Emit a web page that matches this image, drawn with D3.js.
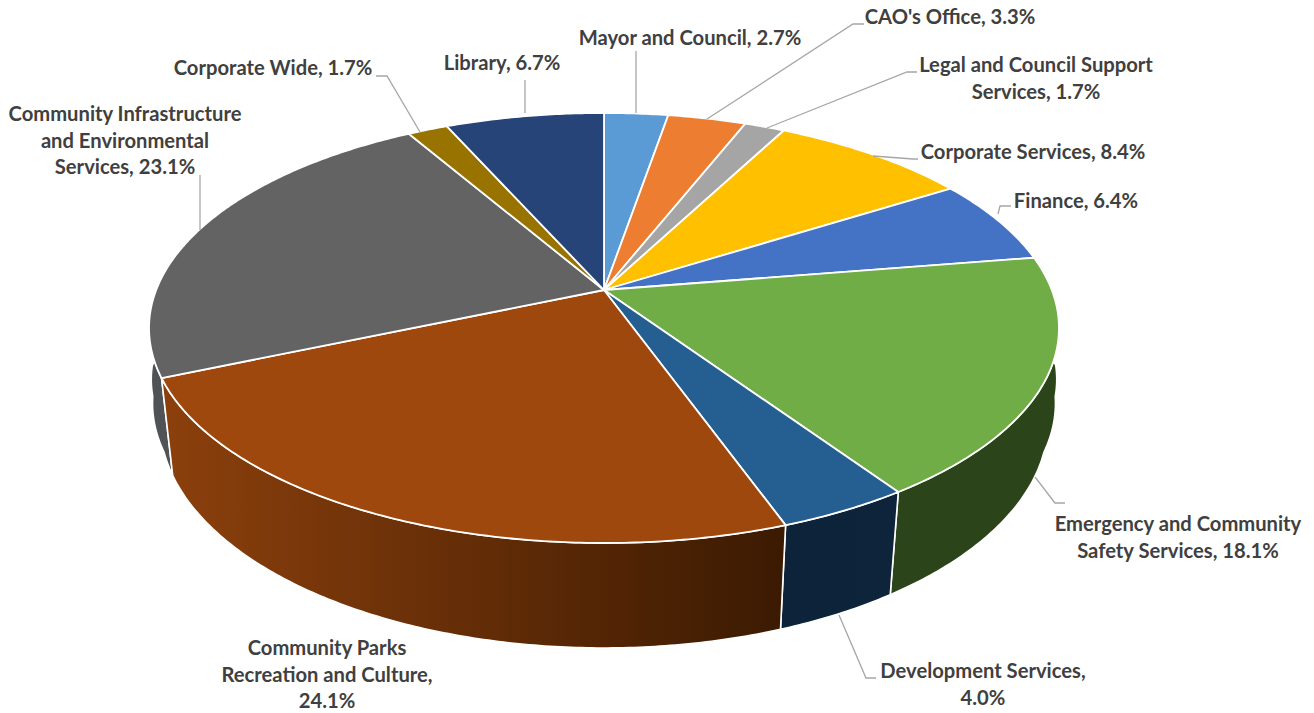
<!DOCTYPE html>
<html><head><meta charset="utf-8">
<script src="https://d3js.org/d3.v7.min.js"></script>
<style>html,body{margin:0;background:#fff}svg{display:block}</style></head>
<body><svg id="c" width="1314" height="713"></svg>
<script>
const categories=["Mayor and Council","CAO's Office","Legal and Council Support Services","Corporate Services","Finance","Emergency and Community Safety Services","Development Services","Community Parks Recreation and Culture","Community Infrastructure and Environmental Services","Corporate Wide","Library"];
const values=[2.7,3.3,1.7,8.4,6.4,18.1,4.0,24.1,23.1,1.7,6.7];
const colors=["#5b9bd5","#ed7d31","#a5a5a5","#ffc000","#4472c4","#70ad47","#255e91","#9e480e","#636363","#997300","#264478"];
const wallColors=[["#3a5f80","#3a5f80"],["#7a3f18","#7a3f18"],["#555","#555"],["#806000","#806000"],["#223960","#223960"],["#2b4419","#2c441a"],["#0d2339","#0e243b"],["#8c400c","#3b1a02"],["#505356","#5a5a5a"],["#4c3900","#4c3900"],["#132240","#132240"]];
const labelLines=[["Mayor and Council, 2.7%"],["CAO's Office, 3.3%"],["Legal and Council Support","Services, 1.7%"],["Corporate Services, 8.4%"],["Finance, 6.4%"],["Emergency and Community","Safety Services, 18.1%"],["Development Services,","4.0%"],["Community Parks","Recreation and Culture,","24.1%"],["Community Infrastructure","and Environmental","Services, 23.1%"],["Corporate Wide, 1.7%"],["Library, 6.7%"]];
const labelPos=[[690,45],[950,24],[1036,72],[1033,159],[1076,208],[1178,531],[983,678],[327,655],[125,121],[273,75],[502,70]];
const leaders=[[[636,113],[636,51]],[[707,119],[853,24],[864,24]],[[767,128],[907,72],[917,72]],[[873,156],[913,159],[918,159]],[[998,214],[1000,206],[1011,206]],[[1035,477],[1055,503],[1065,503]],[[839,615],[866,678],[876,678]],[],[[200,230],[200,175]],[[420,132],[387,76],[376,76]],[[525,113],[525,80]]];

const cx=604,cy=290,A=208.3,B=447.8,K=0.1767,M=0.024,C=95;
const taper=d3.scaleLinear().domain([-0.3,-0.05,0.1]).range([1,0,-1.3]).clamp(true);
const project=(t,h)=>{const u=Math.sin(t),v=Math.cos(t),d=1+K*v+M*h*taper(v);return [cx+B*u/d,cy+(-A*v+C*h)/d];};
const arcPts=(a0,a1,h)=>{const n=Math.max(4,Math.ceil((a1-a0)/0.01));return d3.range(n+1).map(i=>project(a0+(a1-a0)*i/n,h));};
const pie=d3.pie().sort(null).value(d=>d)(values);
const line=d3.line().curve(d3.curveLinear);
const svg=d3.select("#c");
const defs=svg.append("defs");
const ext=d=>{const p=arcPts(d.startAngle,d.endAngle,1).concat(arcPts(d.startAngle,d.endAngle,0));return d3.extent(p,q=>q[0]);};
pie.forEach((d,i)=>{const e=ext(d);
  const g=defs.append("linearGradient").attr("id","w"+i).attr("gradientUnits","userSpaceOnUse").attr("x1",e[0]).attr("x2",e[1]).attr("y1",0).attr("y2",0);
  g.append("stop").attr("offset",0).attr("stop-color",wallColors[i][0]);
  g.append("stop").attr("offset",1).attr("stop-color",wallColors[i][1]);
});
const backToFront=pie.map((d,i)=>i).sort((a,b)=>Math.cos((pie[b].startAngle+pie[b].endAngle)/2)-Math.cos((pie[a].startAngle+pie[a].endAngle)/2));
svg.append("g").selectAll("path").data(backToFront).join("path")
  .attr("d",i=>{const d=pie[i];return line(arcPts(d.startAngle,d.endAngle,0).concat(arcPts(d.startAngle,d.endAngle,1).reverse()))+"Z";})
  .attr("fill",i=>`url(#w${i})`).attr("stroke","#fff").attr("stroke-width",1.6).attr("stroke-linejoin","round");
svg.append("g").selectAll("path").data(pie).join("path")
  .attr("d",d=>line([[cx,cy]].concat(arcPts(d.startAngle,d.endAngle,0)))+"Z")
  .attr("fill",(d,i)=>colors[i]).attr("stroke","#fff").attr("stroke-width",1.8).attr("stroke-linejoin","round");
svg.append("g").selectAll("path").data(leaders.filter(l=>l.length)).join("path")
  .attr("d",l=>line(l)).attr("fill","none").attr("stroke","#a6a6a6").attr("stroke-width",1.3);
const lg=svg.append("g").attr("font-family","Lato").attr("font-weight",700).attr("font-size",20.2).attr("fill","#404040").attr("text-anchor","middle");
labelLines.forEach((ls,i)=>{ls.forEach((s,j)=>{lg.append("text").attr("x",labelPos[i][0]).attr("y",labelPos[i][1]+j*26.5).text(s);});});
</script></body></html>
